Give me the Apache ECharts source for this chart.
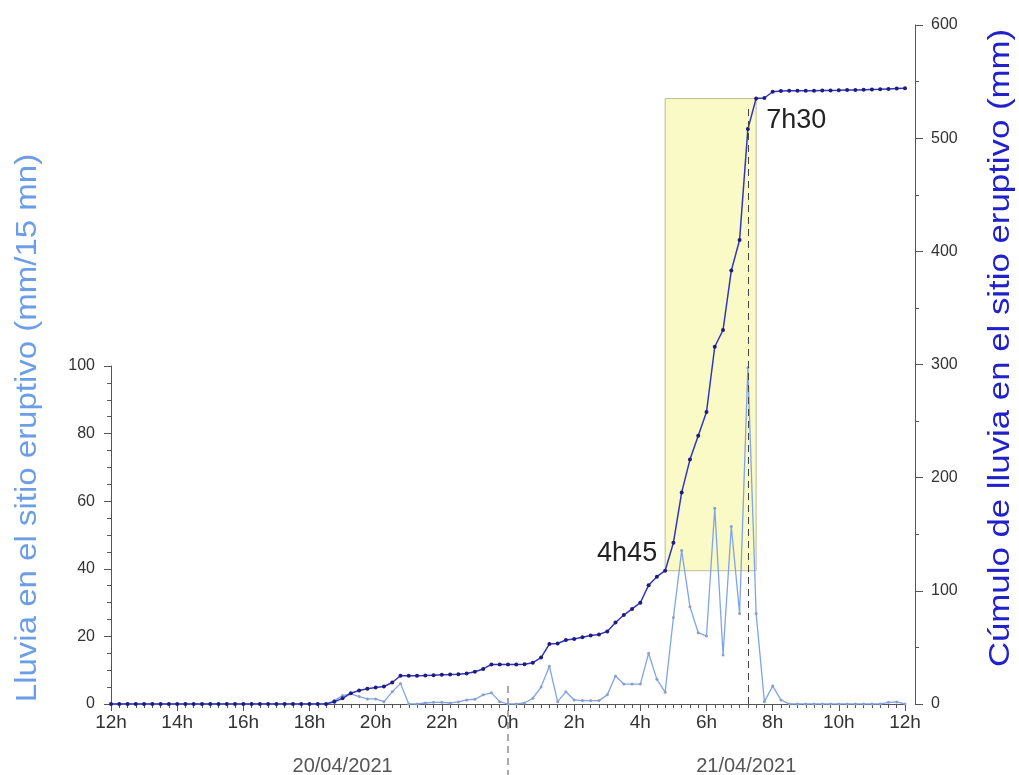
<!DOCTYPE html>
<html><head><meta charset="utf-8">
<script src="https://cdn.jsdelivr.net/npm/echarts@6/dist/echarts.min.js"></script>
<style>html,body{margin:0;padding:0;background:#fff}#c{width:1019px;height:775px}</style>
</head><body><div id="c"></div>
<script>
// 15-minute samples from 12h (20/04/2021) to 12h (21/04/2021)
const startHour = 12;
const stepHour = 0.25;

// Rain in mm / 15 mn (left axis)
const rain = [
  0,0,0,0,0,0,0,0,0,0,0,0,0,0,0,0,0,0,0,0,0,0,0,0,0,0,0,
  1.0,2.5,3.0,2.2,1.5,1.5,0.7,3.6,6.1,0,0,0.3,0.5,0.5,0.3,0.6,1.2,1.4,2.7,3.3,0.7,0,0,0.3,
  1.7,5.0,11.2,0.7,3.6,1.2,1.0,1.0,1.0,2.7,8.3,5.9,5.9,5.9,15.0,7.3,3.5,25.6,45.4,28.8,
  21.1,20.1,57.9,14.5,52.5,26.8,99.5,26.8,0.7,5.3,1.2,
  0,0,0,0,0,0,0,0,0,0,0,0,0.5,0.6,0
];

// Cumulative rain in mm (right axis)
const cumulative = [
  0,0,0,0,0,0,0,0,0,0,0,0,0,0,0,0,0,0,0,0,0,0,0,0,0,0,0,
  2,5,9.5,12,13.5,14.5,15.5,19,25,25,25,25.2,25.5,25.8,26,26.3,27,28.5,31,35,35,35,35,35.2,
  36.5,41,53,53.5,56.5,57.5,59,60.5,61.5,64,72,78.6,84,89.5,105,112.5,117.8,142.5,187,216,
  237,258,315.7,330.5,383,410,508,535,535.5,541,
  541.7,541.8,541.9,542,542,542.1,542.2,542.3,542.5,542.6,542.8,543,543.2,543.5,543.8,544
];

const xMin = 12, xMax = 36, xInterval = 2;
const leftTicks = {min: 0, max: 100, interval: 20};
const rightTicks = {min: 0, max: 600, interval: 100};
const startLabel = '4h45', endLabel = '7h30';
const startTime = 28.75, endTime = 31.5, peakTime = 31.25;
const dateLabels = [['20/04/2021', 19], ['21/04/2021', 31.2]];
const midnight = 24;
const leftTitle = 'Lluvia en el sitio eruptivo (mm/15 mn)';
const rightTitle = 'Cúmulo de lluvia en el sitio eruptivo (mm)';

const times = rain.map((_, i) => startHour + i * stepHour);
const rainData = times.map((t, i) => [t, rain[i]]);
const cumData = times.map((t, i) => [t, cumulative[i]]);
const cumAt = t => cumulative[times.indexOf(t)];

const FONT = 'Liberation Sans, Arial, sans-serif';
const axisCol = '#555';

const chart = echarts.init(document.getElementById('c'), null, {renderer: 'canvas'});
const option = {
  animation: false,
  backgroundColor: '#fff',
  grid: [
    {left: 111, right: 114, top: 366, bottom: 71},
    {left: 111, right: 114, top: 25, bottom: 71}
  ],
  xAxis: [
    {
      gridIndex: 0, type: 'value', min: xMin, max: xMax, interval: xInterval,
      axisLine: {lineStyle: {color: axisCol, width: 1}},
      axisTick: {show: true, length: 7, lineStyle: {color: axisCol}},
      minorTick: {show: true, splitNumber: 8, length: 4, lineStyle: {color: axisCol}},
      splitLine: {show: false},
      axisLabel: {formatter: v => (v % 24) + 'h', fontSize: 19, color: '#333', margin: 9, fontFamily: FONT}
    },
    {gridIndex: 1, type: 'value', min: xMin, max: xMax, show: false}
  ],
  yAxis: [
    {
      gridIndex: 0, type: 'value', position: 'left',
      min: leftTicks.min, max: leftTicks.max, interval: leftTicks.interval,
      axisLine: {show: true, lineStyle: {color: axisCol}},
      axisTick: {show: true, length: 7, lineStyle: {color: axisCol}},
      minorTick: {show: true, splitNumber: 4, length: 4, lineStyle: {color: axisCol}},
      splitLine: {show: false},
      axisLabel: {fontSize: 16, color: '#333', margin: 16, fontFamily: FONT}
    },
    {
      gridIndex: 1, type: 'value', position: 'right', offset: 10,
      min: rightTicks.min, max: rightTicks.max, interval: rightTicks.interval,
      axisLine: {show: true, lineStyle: {color: axisCol}},
      axisTick: {show: true, length: 8, lineStyle: {color: axisCol}},
      minorTick: {show: true, splitNumber: 2, length: 4, lineStyle: {color: axisCol}},
      splitLine: {show: false},
      axisLabel: {fontSize: 16, color: '#333', margin: 16, fontFamily: FONT}
    }
  ],
  series: [
    {
      type: 'line', xAxisIndex: 1, yAxisIndex: 1, data: [], z: 1, silent: true,
      markArea: {
        silent: true,
        itemStyle: {color: '#fafac6', borderColor: '#bdbd90', borderWidth: 1},
        data: [[{coord: [startTime, cumAt(startTime)]}, {coord: [endTime, cumAt(endTime)]}]]
      },
      markLine: {
        silent: true, symbol: 'none', label: {show: false},
        lineStyle: {type: [7, 5], color: '#444', width: 1},
        data: [[{coord: [peakTime, 0]}, {coord: [peakTime, 530]}]]
      }
    },
    {
      name: 'rain', type: 'line', xAxisIndex: 0, yAxisIndex: 0, data: rainData, z: 3,
      symbol: 'circle', symbolSize: 3, showSymbol: true,
      lineStyle: {color: '#7fa4e8', width: 1.3},
      itemStyle: {color: '#8d9fc4'}
    },
    {
      name: 'cumulative', type: 'line', xAxisIndex: 1, yAxisIndex: 1, data: cumData, z: 4,
      symbol: 'circle', symbolSize: 4, showSymbol: true,
      lineStyle: {color: '#3333c4', width: 1.5},
      itemStyle: {color: '#1e1e7a'}
    }
  ]
};
chart.setOption(option);

const p0 = chart.convertToPixel({xAxisIndex: 1, yAxisIndex: 1}, [startTime, cumAt(startTime)]);
const p1 = chart.convertToPixel({xAxisIndex: 1, yAxisIndex: 1}, [endTime, cumAt(endTime)]);
const base = chart.convertToPixel({xAxisIndex: 0, yAxisIndex: 0}, [midnight, 0]);
const graphics = [
  {type: 'text', x: p0[0] - 8, y: p0[1] - 17, style: {text: startLabel, font: '27px ' + FONT, fill: '#222', textAlign: 'right', textVerticalAlign: 'middle'}},
  {type: 'text', x: p1[0] + 10, y: p1[1] + 22, style: {text: endLabel, font: '27px ' + FONT, fill: '#222', textAlign: 'left', textVerticalAlign: 'middle'}},
  {type: 'line', shape: {x1: base[0], y1: base[1] - 18, x2: base[0], y2: 775}, style: {stroke: '#555', lineWidth: 1, lineDash: [7, 5]}},
  {type: 'text', x: 28, y: 428, rotation: Math.PI / 2, scaleX: 1.1, style: {text: leftTitle, font: '30px ' + FONT, fill: '#6c9ee8', textAlign: 'center', textVerticalAlign: 'middle'}},
  {type: 'text', x: 1001, y: 348, rotation: Math.PI / 2, scaleX: 1.16, style: {text: rightTitle, font: '30px ' + FONT, fill: '#2020cc', textAlign: 'center', textVerticalAlign: 'middle'}}
];
dateLabels.forEach(([txt, t]) => {
  const p = chart.convertToPixel({xAxisIndex: 0, yAxisIndex: 0}, [t, 0]);
  graphics.push({type: 'text', x: p[0], y: 766, style: {text: txt, font: '20px ' + FONT, fill: '#555', textAlign: 'center', textVerticalAlign: 'middle'}});
});
chart.setOption({graphic: graphics});
</script>
</body></html>
